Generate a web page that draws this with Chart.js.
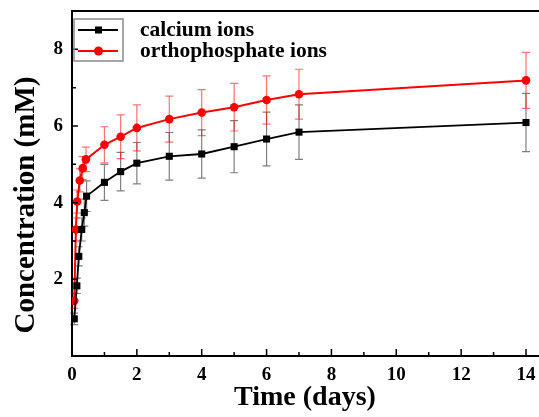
<!DOCTYPE html>
<html>
<head>
<meta charset="utf-8">
<script src="https://cdn.jsdelivr.net/npm/chart.js@4.4.0/dist/chart.umd.min.js"></script>
<style>
html,body{margin:0;padding:0;background:#fff;overflow:hidden;width:539px;height:417px;}
canvas{display:block;}
</style>
</head>
<body>
<canvas id="c" width="543" height="417"></canvas>
<script>
// ---- data ----
const seriesNames = ['calcium ions', 'orthophosphate ions'];
const caX   = [0.07, 0.15, 0.21, 0.30, 0.38, 0.45, 1, 1.5, 2, 3, 4, 5, 6, 7, 14];
const caY   = [0.97, 1.83, 2.60, 3.30, 3.74, 4.17, 4.53, 4.81, 5.03, 5.21, 5.27, 5.46, 5.66, 5.84, 6.09];
const caErr = [0.15, 0.20, 0.25, 0.30, 0.35, 0.40, 0.47, 0.50, 0.54, 0.62, 0.63, 0.68, 0.70, 0.71, 0.76];
const poX   = [0.07, 0.12, 0.16, 0.24, 0.33, 0.43, 1, 1.5, 2, 3, 4, 5, 6, 7, 14];
const poY   = [1.44, 3.30, 4.03, 4.58, 4.90, 5.13, 5.51, 5.72, 5.95, 6.18, 6.35, 6.49, 6.68, 6.83, 7.19];
const poErr = [0.20, 0.30, 0.30, 0.30, 0.30, 0.32, 0.47, 0.57, 0.60, 0.60, 0.60, 0.62, 0.63, 0.65, 0.73];
const xTicks = [0, 2, 4, 6, 8, 10, 12, 14];
const xMinorTicks = [1, 3, 5, 7, 9, 11, 13];
const yTicks = [2, 4, 6, 8];
const yMinorTicks = [1, 3, 5, 7];
const xTitle = 'Time (days)';
const yTitle = 'Concentration (mM)';

const SERIF = '"Liberation Serif", "Times New Roman", serif';
const errs = [caErr, poErr];
const errColors = ['rgba(0,0,0,0.5)', 'rgba(255,0,0,0.55)'];

const errorBars = {
  id: 'errorBars',
  beforeDatasetsDraw(chart) {
    const ctx = chart.ctx, xs = chart.scales.x, ys = chart.scales.y;
    chart.data.datasets.forEach((ds, i) => {
      ctx.save();
      ctx.strokeStyle = errColors[i];
      ctx.lineWidth = 1.2;
      ds.data.forEach((p, j) => {
        const e = errs[i][j];
        const px = xs.getPixelForValue(p.x);
        const y1 = ys.getPixelForValue(p.y - e);
        const y2 = ys.getPixelForValue(p.y + e);
        ctx.beginPath();
        ctx.moveTo(px, y1); ctx.lineTo(px, y2);
        ctx.moveTo(px - 4, y1); ctx.lineTo(px + 4, y1);
        ctx.moveTo(px - 4, y2); ctx.lineTo(px + 4, y2);
        ctx.stroke();
      });
      ctx.restore();
    });
  }
};

const decor = {
  id: 'decor',
  afterDraw(chart) {
    const ctx = chart.ctx, a = chart.chartArea, xs = chart.scales.x, ys = chart.scales.y;
    ctx.save();
    ctx.strokeStyle = '#000';
    ctx.lineWidth = 2;
    // top border
    ctx.beginPath();
    ctx.moveTo(a.left - 1, a.top); ctx.lineTo(chart.width, a.top);
    ctx.stroke();
    // inward ticks
    ctx.lineWidth = 1.5;
    ctx.beginPath();
    xTicks.forEach(v => { const p = xs.getPixelForValue(v); ctx.moveTo(p, a.bottom); ctx.lineTo(p, a.bottom - 7); });
    xMinorTicks.forEach(v => { const p = xs.getPixelForValue(v); ctx.moveTo(p, a.bottom); ctx.lineTo(p, a.bottom - 4); });
    yTicks.forEach(v => { const p = ys.getPixelForValue(v); ctx.moveTo(a.left, p); ctx.lineTo(a.left + 6, p); });
    yMinorTicks.forEach(v => { const p = ys.getPixelForValue(v); ctx.moveTo(a.left, p); ctx.lineTo(a.left + 4, p); });
    ctx.stroke();

    // y title
    ctx.save();
    ctx.translate(34, 205);
    ctx.rotate(-Math.PI / 2);
    ctx.font = 'bold 29px ' + SERIF;
    ctx.fillStyle = '#000';
    ctx.textAlign = 'center';
    ctx.textBaseline = 'alphabetic';
    ctx.fillText(yTitle, 0, 0);
    ctx.restore();

    // legend
    const bx = a.left + 2, by = 19, bw = 49, bh = 42;
    ctx.strokeStyle = '#8a8a8a';
    ctx.lineWidth = 1.5;
    ctx.strokeRect(bx, by, bw, bh);
    chart.data.datasets.forEach((ds, i) => {
      const ly = 30 + i * 21;
      ctx.strokeStyle = ds.borderColor;
      ctx.lineWidth = ds.borderWidth;
      ctx.beginPath();
      ctx.moveTo(bx + 4, ly); ctx.lineTo(bx + bw - 5, ly);
      ctx.stroke();
      ctx.fillStyle = ds.pointBackgroundColor;
      const cx = bx + bw / 2;
      if (ds.pointStyle === 'rect') {
        ctx.fillRect(cx - 3.5, ly - 3.5, 7, 7);
      } else {
        ctx.beginPath(); ctx.arc(cx, ly, 4.5, 0, Math.PI * 2); ctx.fill();
      }
      ctx.fillStyle = '#000';
      ctx.font = 'bold 21.5px ' + SERIF;
      ctx.textAlign = 'left';
      ctx.textBaseline = 'middle';
      ctx.fillText(ds.label, 140, ly);
    });
    ctx.restore();
  }
};

new Chart(document.getElementById('c'), {
  type: 'line',
  data: {
    datasets: [
      {
        label: seriesNames[0],
        data: caX.map((x, i) => ({ x, y: caY[i] })),
        borderColor: '#000',
        backgroundColor: '#000',
        pointBackgroundColor: '#000',
        pointBorderColor: '#000',
        borderWidth: 1.8,
        pointStyle: 'rect',
        pointRadius: 5,
        pointBorderWidth: 0,
        tension: 0
      },
      {
        label: seriesNames[1],
        data: poX.map((x, i) => ({ x, y: poY[i] })),
        borderColor: '#ff0000',
        backgroundColor: '#ff0000',
        pointBackgroundColor: '#ff0000',
        pointBorderColor: '#ff0000',
        borderWidth: 2,
        pointStyle: 'circle',
        pointRadius: 4.3,
        pointBorderWidth: 0,
        tension: 0
      }
    ]
  },
  options: {
    responsive: false,
    animation: false,
    devicePixelRatio: 1,
    layout: { padding: { left: 0, top: 11, right: 0, bottom: 0 } },
    plugins: { legend: { display: false }, tooltip: { enabled: false } },
    scales: {
      x: {
        type: 'linear',
        min: 0,
        max: 14.37,
        afterBuildTicks: s => { s.ticks = xTicks.map(v => ({ value: v })); },
        afterFit: s => { s.height = 61; s.paddingLeft = 0; s.paddingRight = 0; },
        grid: { display: false, drawTicks: false },
        border: { display: true, color: '#000', width: 2 },
        ticks: { color: '#000', padding: 8, maxRotation: 0, font: { family: SERIF, size: 19, weight: 'bold' } },
        title: { display: true, text: xTitle, color: '#000', padding: { top: 0, bottom: 2 }, font: { family: SERIF, size: 28, weight: 'bold' } }
      },
      y: {
        type: 'linear',
        min: 0,
        max: 9,
        afterBuildTicks: s => { s.ticks = yTicks.map(v => ({ value: v })); },
        afterFit: s => { s.width = 72; s.paddingTop = 0; s.paddingBottom = 0; },
        grid: { display: false, drawTicks: false },
        border: { display: true, color: '#000', width: 2 },
        ticks: { color: '#000', padding: 9, font: { family: SERIF, size: 19, weight: 'bold' } }
      }
    }
  },
  plugins: [errorBars, decor]
});
</script>
</body>
</html>
